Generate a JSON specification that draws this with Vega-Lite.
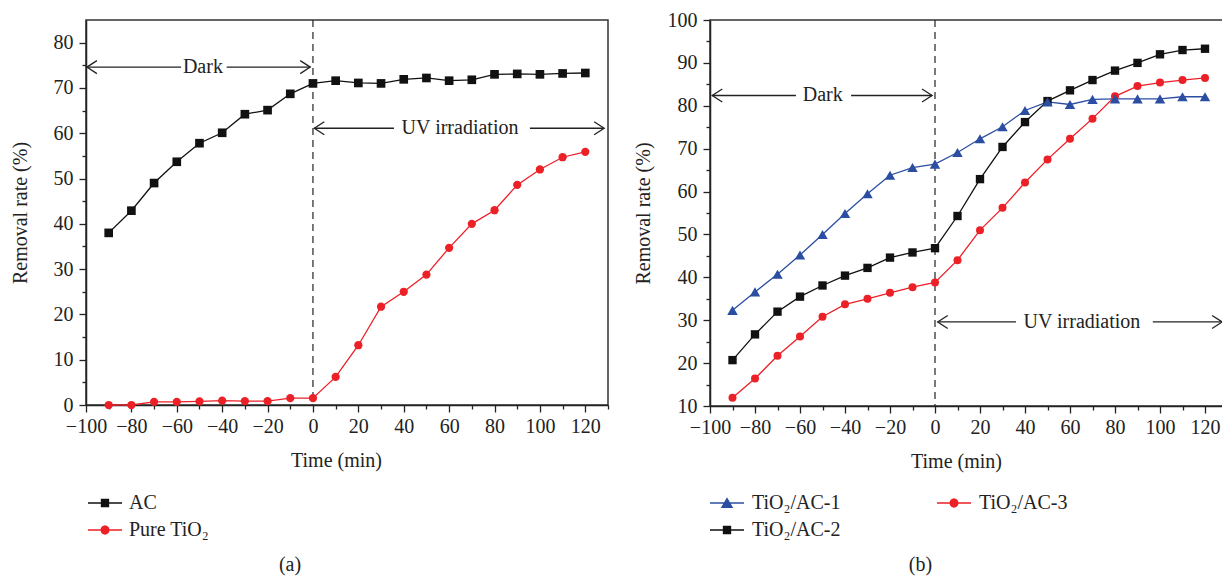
{
  "$schema": "https://vega.github.io/schema/vega-lite/v6.json",
  "padding": {"left": 9, "top": 9, "right": 0, "bottom": 0},
  "background": "white",
  "bounds": "flush",
  "spacing": 102,
  "config": {
    "font": "Liberation Serif",
    "view": {"stroke": "#333333", "strokeWidth": 1.5},
    "axis": {
      "labelFont": "Liberation Serif", "labelFontSize": 20, "labelColor": "#222222", "labelOverlap": false, "labelBound": false, "labelFlush": false,
      "titleFont": "Liberation Serif", "titleFontSize": 20, "titleFontWeight": "normal", "titleColor": "#222222",
      "domainColor": "#222222", "domainWidth": 1.5, "tickColor": "#222222", "tickWidth": 1.3, "grid": false
    },
    "legend": {"labelFont": "Liberation Serif", "labelFontSize": 20, "labelColor": "#222222"},
    "title": {"font": "Liberation Serif", "fontSize": 20, "fontWeight": "normal", "color": "#222222"}
  },
  "datasets": {
    "a_series": [
      {"time": -90, "rate": 38, "series": "AC"}, {"time": -80, "rate": 42.9, "series": "AC"}, {"time": -70, "rate": 49, "series": "AC"}, {"time": -60, "rate": 53.7, "series": "AC"}, {"time": -50, "rate": 57.8, "series": "AC"}, {"time": -40, "rate": 60.1, "series": "AC"}, {"time": -30, "rate": 64.2, "series": "AC"}, {"time": -20, "rate": 65.1, "series": "AC"}, {"time": -10, "rate": 68.7, "series": "AC"}, {"time": 0, "rate": 71, "series": "AC"}, {"time": 10, "rate": 71.6, "series": "AC"}, {"time": 20, "rate": 71.1, "series": "AC"}, {"time": 30, "rate": 71, "series": "AC"}, {"time": 40, "rate": 71.9, "series": "AC"}, {"time": 50, "rate": 72.2, "series": "AC"}, {"time": 60, "rate": 71.6, "series": "AC"}, {"time": 70, "rate": 71.8, "series": "AC"}, {"time": 80, "rate": 73, "series": "AC"}, {"time": 90, "rate": 73.1, "series": "AC"}, {"time": 100, "rate": 73, "series": "AC"}, {"time": 110, "rate": 73.2, "series": "AC"}, {"time": 120, "rate": 73.3, "series": "AC"},
      {"time": -90, "rate": 0, "series": "Pure TiO₂"}, {"time": -80, "rate": 0, "series": "Pure TiO₂"}, {"time": -70, "rate": 0.7, "series": "Pure TiO₂"}, {"time": -60, "rate": 0.7, "series": "Pure TiO₂"}, {"time": -50, "rate": 0.8, "series": "Pure TiO₂"}, {"time": -40, "rate": 0.95, "series": "Pure TiO₂"}, {"time": -30, "rate": 0.85, "series": "Pure TiO₂"}, {"time": -20, "rate": 0.85, "series": "Pure TiO₂"}, {"time": -10, "rate": 1.5, "series": "Pure TiO₂"}, {"time": 0, "rate": 1.5, "series": "Pure TiO₂"}, {"time": 10, "rate": 6.2, "series": "Pure TiO₂"}, {"time": 20, "rate": 13.2, "series": "Pure TiO₂"}, {"time": 30, "rate": 21.7, "series": "Pure TiO₂"}, {"time": 40, "rate": 25, "series": "Pure TiO₂"}, {"time": 50, "rate": 28.8, "series": "Pure TiO₂"}, {"time": 60, "rate": 34.7, "series": "Pure TiO₂"}, {"time": 70, "rate": 40, "series": "Pure TiO₂"}, {"time": 80, "rate": 43, "series": "Pure TiO₂"}, {"time": 90, "rate": 48.6, "series": "Pure TiO₂"}, {"time": 100, "rate": 52, "series": "Pure TiO₂"}, {"time": 110, "rate": 54.7, "series": "Pure TiO₂"}, {"time": 120, "rate": 55.9, "series": "Pure TiO₂"}
    ],
    "b_series": [
      {"time": -90, "rate": 32.3, "series": "TiO₂/AC-1"}, {"time": -80, "rate": 36.6, "series": "TiO₂/AC-1"}, {"time": -70, "rate": 40.7, "series": "TiO₂/AC-1"}, {"time": -60, "rate": 45.2, "series": "TiO₂/AC-1"}, {"time": -50, "rate": 50, "series": "TiO₂/AC-1"}, {"time": -40, "rate": 54.9, "series": "TiO₂/AC-1"}, {"time": -30, "rate": 59.5, "series": "TiO₂/AC-1"}, {"time": -20, "rate": 63.8, "series": "TiO₂/AC-1"}, {"time": -10, "rate": 65.6, "series": "TiO₂/AC-1"}, {"time": 0, "rate": 66.4, "series": "TiO₂/AC-1"}, {"time": 10, "rate": 69.1, "series": "TiO₂/AC-1"}, {"time": 20, "rate": 72.3, "series": "TiO₂/AC-1"}, {"time": 30, "rate": 75.1, "series": "TiO₂/AC-1"}, {"time": 40, "rate": 78.9, "series": "TiO₂/AC-1"}, {"time": 50, "rate": 80.9, "series": "TiO₂/AC-1"}, {"time": 60, "rate": 80.3, "series": "TiO₂/AC-1"}, {"time": 70, "rate": 81.5, "series": "TiO₂/AC-1"}, {"time": 80, "rate": 81.6, "series": "TiO₂/AC-1"}, {"time": 90, "rate": 81.6, "series": "TiO₂/AC-1"}, {"time": 100, "rate": 81.6, "series": "TiO₂/AC-1"}, {"time": 110, "rate": 82.1, "series": "TiO₂/AC-1"}, {"time": 120, "rate": 82.1, "series": "TiO₂/AC-1"},
      {"time": -90, "rate": 20.7, "series": "TiO₂/AC-2"}, {"time": -80, "rate": 26.7, "series": "TiO₂/AC-2"}, {"time": -70, "rate": 32, "series": "TiO₂/AC-2"}, {"time": -60, "rate": 35.5, "series": "TiO₂/AC-2"}, {"time": -50, "rate": 38.1, "series": "TiO₂/AC-2"}, {"time": -40, "rate": 40.4, "series": "TiO₂/AC-2"}, {"time": -30, "rate": 42.2, "series": "TiO₂/AC-2"}, {"time": -20, "rate": 44.6, "series": "TiO₂/AC-2"}, {"time": -10, "rate": 45.8, "series": "TiO₂/AC-2"}, {"time": 0, "rate": 46.8, "series": "TiO₂/AC-2"}, {"time": 10, "rate": 54.3, "series": "TiO₂/AC-2"}, {"time": 20, "rate": 62.9, "series": "TiO₂/AC-2"}, {"time": 30, "rate": 70.4, "series": "TiO₂/AC-2"}, {"time": 40, "rate": 76.2, "series": "TiO₂/AC-2"}, {"time": 50, "rate": 81.1, "series": "TiO₂/AC-2"}, {"time": 60, "rate": 83.6, "series": "TiO₂/AC-2"}, {"time": 70, "rate": 86, "series": "TiO₂/AC-2"}, {"time": 80, "rate": 88.2, "series": "TiO₂/AC-2"}, {"time": 90, "rate": 90, "series": "TiO₂/AC-2"}, {"time": 100, "rate": 92, "series": "TiO₂/AC-2"}, {"time": 110, "rate": 93, "series": "TiO₂/AC-2"}, {"time": 120, "rate": 93.3, "series": "TiO₂/AC-2"},
      {"time": -90, "rate": 11.9, "series": "TiO₂/AC-3"}, {"time": -80, "rate": 16.4, "series": "TiO₂/AC-3"}, {"time": -70, "rate": 21.7, "series": "TiO₂/AC-3"}, {"time": -60, "rate": 26.2, "series": "TiO₂/AC-3"}, {"time": -50, "rate": 30.8, "series": "TiO₂/AC-3"}, {"time": -40, "rate": 33.7, "series": "TiO₂/AC-3"}, {"time": -30, "rate": 35, "series": "TiO₂/AC-3"}, {"time": -20, "rate": 36.4, "series": "TiO₂/AC-3"}, {"time": -10, "rate": 37.7, "series": "TiO₂/AC-3"}, {"time": 0, "rate": 38.8, "series": "TiO₂/AC-3"}, {"time": 10, "rate": 44, "series": "TiO₂/AC-3"}, {"time": 20, "rate": 51, "series": "TiO₂/AC-3"}, {"time": 30, "rate": 56.2, "series": "TiO₂/AC-3"}, {"time": 40, "rate": 62.1, "series": "TiO₂/AC-3"}, {"time": 50, "rate": 67.5, "series": "TiO₂/AC-3"}, {"time": 60, "rate": 72.3, "series": "TiO₂/AC-3"}, {"time": 70, "rate": 77, "series": "TiO₂/AC-3"}, {"time": 80, "rate": 82.2, "series": "TiO₂/AC-3"}, {"time": 90, "rate": 84.6, "series": "TiO₂/AC-3"}, {"time": 100, "rate": 85.4, "series": "TiO₂/AC-3"}, {"time": 110, "rate": 86, "series": "TiO₂/AC-3"}, {"time": 120, "rate": 86.5, "series": "TiO₂/AC-3"}
    ],
    "a_segments": [{"x": -99.6, "x2": -58.1, "y": 74.6}, {"x": -38, "x2": -1.2, "y": 74.6}, {"x": 0.6, "x2": 35.7, "y": 61.1}, {"x": 95.6, "x2": 128.3, "y": 61.1}],
    "a_heads": [{"x": -99.6, "y": 74.6, "dir": "left"}, {"x": 0.6, "y": 61.1, "dir": "left"}, {"x": -1.2, "y": 74.6, "dir": "right"}, {"x": 128.3, "y": 61.1, "dir": "right"}],
    "a_labels": [{"x": -48.5, "y": 74.6, "label": "Dark"}, {"x": 64.8, "y": 61.1, "label": "UV irradiation"}],
    "b_segments": [{"x": -99, "x2": -61.8, "y": 82.4}, {"x": -37.3, "x2": -1.3, "y": 82.4}, {"x": 1.2, "x2": 36, "y": 29.6}, {"x": 96.8, "x2": 128, "y": 29.6}],
    "b_heads": [{"x": -99, "y": 82.4, "dir": "left"}, {"x": 1.2, "y": 29.6, "dir": "left"}, {"x": -1.3, "y": 82.4, "dir": "right"}, {"x": 127.6, "y": 29.6, "dir": "right"}],
    "b_labels": [{"x": -49.9, "y": 82.4, "label": "Dark"}, {"x": 65.3, "y": 29.6, "label": "UV irradiation"}],
    "zero": [{"x": 0}]
  },
  "hconcat": [
    {
      "width": 522,
      "height": 385,
      "title": {"text": "(a)", "orient": "bottom", "frame": "group", "anchor": "middle", "dx": -57, "offset": 15},
      "layer": [
        {"data": {"name": "zero"}, "mark": {"type": "rule", "strokeDash": [7, 5], "color": "#333333", "strokeWidth": 1.3},
         "encoding": {"x": {"field": "x", "type": "quantitative", "scale": {"domain": [-100, 130], "nice": false}, "axis": null}}},
        {"data": {"name": "a_segments"}, "mark": {"type": "rule", "color": "#222222", "strokeWidth": 1.3},
         "encoding": {"x": {"field": "x", "type": "quantitative", "axis": null}, "x2": {"field": "x2"}, "y": {"field": "y", "type": "quantitative", "scale": {"domain": [0, 85], "nice": false}, "axis": null}}},
        {"data": {"name": "a_heads"}, "transform": [{"filter": "datum.dir === 'left'"}],
         "mark": {"type": "point", "shape": "M1,-0.65L0,0L1,0.65", "size": 400, "filled": false, "color": "#222222", "strokeWidth": 1.3, "opacity": 1},
         "encoding": {"x": {"field": "x", "type": "quantitative", "axis": null}, "y": {"field": "y", "type": "quantitative", "axis": null}}},
        {"data": {"name": "a_heads"}, "transform": [{"filter": "datum.dir === 'right'"}],
         "mark": {"type": "point", "shape": "M-1,-0.65L0,0L-1,0.65", "size": 400, "filled": false, "color": "#222222", "strokeWidth": 1.3, "opacity": 1},
         "encoding": {"x": {"field": "x", "type": "quantitative", "axis": null}, "y": {"field": "y", "type": "quantitative", "axis": null}}},
        {"data": {"name": "a_labels"}, "mark": {"type": "text", "fontSize": 20, "font": "Liberation Serif", "color": "#222222", "baseline": "middle", "align": "center"},
         "encoding": {"x": {"field": "x", "type": "quantitative", "axis": null}, "y": {"field": "y", "type": "quantitative", "axis": null}, "text": {"field": "label"}}},
        {"data": {"name": "a_series"}, "mark": {"type": "line", "strokeWidth": 1.3},
         "encoding": {
           "x": {"field": "time", "type": "quantitative", "axis": {"orient": "bottom", "values": [-100, -80, -60, -40, -20, 0, 20, 40, 60, 80, 100, 120], "tickSize": 7, "labelPadding": 4, "title": "Time (min)", "titlePadding": 14, "titleX": 250}},
           "y": {"field": "rate", "type": "quantitative", "axis": {"orient": "left", "values": [0, 10, 20, 30, 40, 50, 60, 70, 80], "tickSize": 7, "labelPadding": 6, "title": "Removal rate (%)", "titlePadding": 23}},
           "color": {"field": "series", "type": "nominal", "scale": {"domain": ["AC", "Pure TiO₂"], "range": ["#111111", "#ec2027"]},
             "legend": {"orient": "none", "legendX": 7, "legendY": 471, "title": null, "symbolSize": 514, "symbolStrokeWidth": 1.3, "labelOffset": 12, "rowPadding": 5, "padding": 0,
               "encode": {"symbols": {"update": {
                 "shape": {"signal": "datum.value === 'AC' ? 'M-1.5,0H1.5M-0.31,-0.31H0.31V0.31H-0.31Z' : 'M-1.5,0H1.5M0.35,0L0.303,0.175L0.175,0.303L0,0.35L-0.175,0.303L-0.303,0.175L-0.35,0L-0.303,-0.175L-0.175,-0.303L0,-0.35L0.175,-0.303L0.303,-0.175Z'"},
                 "fill": {"signal": "datum.value === 'AC' ? '#111111' : '#ec2027'"},
                 "stroke": {"signal": "datum.value === 'AC' ? '#111111' : '#ec2027'"},
                 "strokeWidth": {"value": 1.3},
                 "opacity": {"value": 1}, "fillOpacity": {"value": 1}, "strokeOpacity": {"value": 1}}}}}}
         }},
        {"data": {"name": "a_series"}, "transform": [{"filter": "datum.series === 'AC'"}], "mark": {"type": "point", "filled": true, "opacity": 1, "shape": "square", "size": 75},
         "encoding": {
           "x": {"field": "time", "type": "quantitative", "axis": {"orient": "bottom", "values": [-90, -70, -50, -30, -10, 10, 30, 50, 70, 90, 110, 130], "tickSize": 4, "labels": false, "domain": false, "title": null}},
           "y": {"field": "rate", "type": "quantitative", "axis": {"orient": "left", "values": [5, 15, 25, 35, 45, 55, 65, 75], "tickSize": 4, "labels": false, "domain": false, "title": null}},
           "color": {"field": "series", "type": "nominal"}
         }},
        {"data": {"name": "a_series"}, "transform": [{"filter": "datum.series !== 'AC'"}], "mark": {"type": "point", "filled": true, "opacity": 1, "shape": "circle", "size": 68},
         "encoding": {
           "x": {"field": "time", "type": "quantitative", "axis": null},
           "y": {"field": "rate", "type": "quantitative", "axis": null},
           "color": {"field": "series", "type": "nominal"}
         }}
      ],
      "resolve": {"axis": {"x": "independent", "y": "independent"}}
    },
    {
      "width": 513,
      "height": 386,
      "title": {"text": "(b)", "orient": "bottom", "frame": "group", "anchor": "middle", "dx": -46, "offset": 15},
      "layer": [
        {"data": {"name": "zero"}, "mark": {"type": "rule", "strokeDash": [7, 5], "color": "#333333", "strokeWidth": 1.3},
         "encoding": {"x": {"field": "x", "type": "quantitative", "scale": {"domain": [-100, 128], "nice": false}, "axis": null}}},
        {"data": {"name": "b_segments"}, "mark": {"type": "rule", "color": "#222222", "strokeWidth": 1.3},
         "encoding": {"x": {"field": "x", "type": "quantitative", "axis": null}, "x2": {"field": "x2"}, "y": {"field": "y", "type": "quantitative", "scale": {"domain": [10, 100], "nice": false}, "axis": null}}},
        {"data": {"name": "b_heads"}, "transform": [{"filter": "datum.dir === 'left'"}],
         "mark": {"type": "point", "shape": "M1,-0.65L0,0L1,0.65", "size": 400, "filled": false, "color": "#222222", "strokeWidth": 1.3, "opacity": 1},
         "encoding": {"x": {"field": "x", "type": "quantitative", "axis": null}, "y": {"field": "y", "type": "quantitative", "axis": null}}},
        {"data": {"name": "b_heads"}, "transform": [{"filter": "datum.dir === 'right'"}],
         "mark": {"type": "point", "shape": "M-1,-0.65L0,0L-1,0.65", "size": 400, "filled": false, "color": "#222222", "strokeWidth": 1.3, "opacity": 1},
         "encoding": {"x": {"field": "x", "type": "quantitative", "axis": null}, "y": {"field": "y", "type": "quantitative", "axis": null}}},
        {"data": {"name": "b_labels"}, "mark": {"type": "text", "fontSize": 20, "font": "Liberation Serif", "color": "#222222", "baseline": "middle", "align": "center"},
         "encoding": {"x": {"field": "x", "type": "quantitative", "axis": null}, "y": {"field": "y", "type": "quantitative", "axis": null}, "text": {"field": "label"}}},
        {"data": {"name": "b_series"}, "mark": {"type": "line", "strokeWidth": 1.3},
         "encoding": {
           "x": {"field": "time", "type": "quantitative", "axis": {"orient": "bottom", "values": [-100, -80, -60, -40, -20, 0, 20, 40, 60, 80, 100, 120], "tickSize": 7, "labelPadding": 4, "title": "Time (min)", "titlePadding": 14, "titleX": 246}},
           "y": {"field": "rate", "type": "quantitative", "axis": {"orient": "left", "values": [10, 20, 30, 40, 50, 60, 70, 80, 90, 100], "tickSize": 7, "labelPadding": 6, "title": "Removal rate (%)", "titlePadding": 14}},
           "color": {"field": "series", "type": "nominal", "scale": {"domain": ["TiO₂/AC-1", "TiO₂/AC-2", "TiO₂/AC-3"], "range": ["#2b4ea2", "#111111", "#ec2027"]},
             "legend": {"orient": "none", "legendX": 5, "legendY": 471, "title": null, "columns": 2, "columnPadding": 93, "symbolSize": 514, "symbolStrokeWidth": 1.3, "labelOffset": 13, "rowPadding": 5, "padding": 0,
               "encode": {"symbols": {"update": {
                 "shape": {"signal": "datum.value === 'TiO₂/AC-1' ? 'M-1.5,0H1.5M0,-0.4L0.45,0.38H-0.45Z' : datum.value === 'TiO₂/AC-2' ? 'M-1.5,0H1.5M-0.31,-0.31H0.31V0.31H-0.31Z' : 'M-1.5,0H1.5M0.35,0L0.303,0.175L0.175,0.303L0,0.35L-0.175,0.303L-0.303,0.175L-0.35,0L-0.303,-0.175L-0.175,-0.303L0,-0.35L0.175,-0.303L0.303,-0.175Z'"},
                 "fill": {"signal": "datum.value === 'TiO₂/AC-1' ? '#2b4ea2' : datum.value === 'TiO₂/AC-2' ? '#111111' : '#ec2027'"},
                 "stroke": {"signal": "datum.value === 'TiO₂/AC-1' ? '#2b4ea2' : datum.value === 'TiO₂/AC-2' ? '#111111' : '#ec2027'"},
                 "strokeWidth": {"value": 1.3},
                 "opacity": {"value": 1}, "fillOpacity": {"value": 1}, "strokeOpacity": {"value": 1}}}}}}
         }},
        {"data": {"name": "b_series"}, "transform": [{"filter": "datum.series === 'TiO₂/AC-2'"}], "mark": {"type": "point", "filled": true, "opacity": 1, "shape": "square", "size": 70},
         "encoding": {
           "x": {"field": "time", "type": "quantitative", "axis": {"orient": "bottom", "values": [-90, -70, -50, -30, -10, 10, 30, 50, 70, 90, 110], "tickSize": 4, "labels": false, "domain": false, "title": null}},
           "y": {"field": "rate", "type": "quantitative", "axis": {"orient": "left", "values": [15, 25, 35, 45, 55, 65, 75, 85, 95], "tickSize": 4, "labels": false, "domain": false, "title": null}},
           "color": {"field": "series", "type": "nominal"}
         }},
        {"data": {"name": "b_series"}, "transform": [{"filter": "datum.series === 'TiO₂/AC-3'"}], "mark": {"type": "point", "filled": true, "opacity": 1, "shape": "circle", "size": 64},
         "encoding": {
           "x": {"field": "time", "type": "quantitative", "axis": null},
           "y": {"field": "rate", "type": "quantitative", "axis": null},
           "color": {"field": "series", "type": "nominal"}
         }},
        {"data": {"name": "b_series"}, "transform": [{"filter": "datum.series === 'TiO₂/AC-1'"}], "mark": {"type": "point", "filled": true, "opacity": 1, "shape": "triangle-up", "size": 110},
         "encoding": {
           "x": {"field": "time", "type": "quantitative", "axis": null},
           "y": {"field": "rate", "type": "quantitative", "axis": null},
           "color": {"field": "series", "type": "nominal"}
         }}
      ],
      "resolve": {"axis": {"x": "independent", "y": "independent"}}
    }
  ],
  "resolve": {"scale": {"color": "independent"}, "legend": {"color": "independent"}}
}
